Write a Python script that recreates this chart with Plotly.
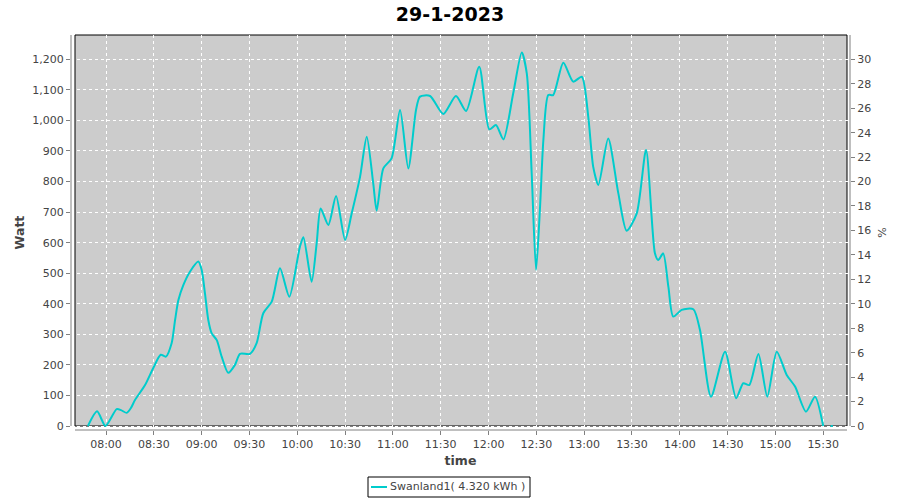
import plotly.graph_objects as go

DAY = "2023-01-29"
TITLE = "29-1-2023"
SERIES_NAME = "Swanland1( 4.320 kWh )"

times = [
    "07:48:40", "07:54:25", "07:59:40", "08:06:40", "08:09:25", "08:13:00", "08:15:45", "08:18:10",
    "08:24:30", "08:29:40", "08:34:20", "08:37:35", "08:41:10", "08:43:20", "08:45:25", "08:48:30",
    "08:52:40", "08:57:55", "09:00:00", "09:02:05", "09:04:10", "09:06:20", "09:09:30", "09:12:35",
    "09:16:40", "09:20:55", "09:24:05", "09:30:20", "09:34:30", "09:38:40", "09:44:00", "09:49:10",
    "09:55:00", "10:01:40", "10:03:50", "10:09:00", "10:12:10", "10:14:40", "10:19:30", "10:24:20",
    "10:30:00", "10:34:10", "10:39:25", "10:43:35", "10:47:40", "10:49:50", "10:54:00", "10:59:10",
    "11:04:30", "11:09:40", "11:14:30", "11:17:00", "11:23:20", "11:31:35", "11:39:35", "11:45:55",
    "11:54:10", "12:00:30", "12:04:40", "12:09:20", "12:15:30", "12:20:50", "12:24:00", "12:27:05",
    "12:29:50", "12:32:20", "12:34:25", "12:37:30", "12:40:35", "12:46:55", "12:53:10", "12:58:30",
    "13:02:35", "13:05:40", "13:08:55", "13:15:05", "13:21:25", "13:26:40", "13:33:00", "13:38:50",
    "13:44:25", "13:46:30", "13:49:35", "13:52:50", "13:55:55", "14:01:10", "14:08:30", "14:12:40",
    "14:19:35", "14:28:25", "14:35:20", "14:39:50", "14:43:35", "14:49:20", "14:54:55", "15:00:50",
    "15:07:05", "15:12:20", "15:19:10", "15:24:50", "15:30:00", "15:32:00", "15:34:40", "15:36:00",
]
watts = [
    0, 48, 0, 55, 52, 43, 60, 85,
    134, 190, 233, 227, 271, 347, 412, 461,
    505, 538, 511, 434, 347, 303, 281, 227,
    174, 200, 236, 236, 271, 369, 407, 516,
    423, 587, 618, 472, 598, 712, 658, 753,
    609, 696, 816, 947, 794, 705, 843, 876,
    1034, 843, 1034, 1078, 1080, 1021, 1080, 1031,
    1176, 971, 985, 938, 1089, 1222, 1154, 827,
    511, 718, 936, 1083, 1083, 1189, 1127, 1143,
    1012, 849, 789, 941, 762, 639, 696, 903,
    565, 543, 565, 456, 358, 380, 382, 314,
    96, 243, 91, 140, 134, 236, 96, 243,
    167, 129, 47, 96, 0, None, 0, 0,
]

y_range = [-13.1, 1279.6]
pct_per_watt = 1 / 40.0
x_range = [DAY + " 07:38:02", DAY + " 15:46:48"]

xs = [DAY + " " + t for t in times]
pct = [None if w is None else w * pct_per_watt for w in watts]

GRAY = "#808080"
TXT = "#444444"
LINE = "#00cccc"
FONT = "DejaVu Sans"

# pixel geometry helpers (plot area: x 71..850, y 35..430)
L, R, T, B = 71, 850, 35, 430
def px(x):
    return (x - L) / (R - L)
def py(y):
    return (B - y) / (B - T)

fig = go.Figure()
fig.add_trace(go.Scatter(
    x=xs, y=watts, mode="lines", name=SERIES_NAME,
    line=dict(color=LINE, width=2, shape="spline", smoothing=0.7),
    connectgaps=False, showlegend=False,
))
fig.add_trace(go.Scatter(
    x=xs, y=pct, mode="lines", yaxis="y2", showlegend=False, hoverinfo="skip",
    line=dict(color="rgba(0,0,0,0)", width=0),
))

# plot background (inset) and axis lines
fig.add_shape(type="rect", xref="paper", yref="paper", x0=px(75), x1=px(847), y0=py(426), y1=1,
              fillcolor="#cccccc", line=dict(color="black", width=1), layer="below")
fig.add_shape(type="line", xref="paper", yref="paper", x0=px(75), x1=px(847), y0=0, y1=0,
              line=dict(color=GRAY, width=1))
fig.add_shape(type="line", xref="paper", yref="paper", x0=0, x1=0, y0=py(426), y1=1,
              line=dict(color=GRAY, width=1))
fig.add_shape(type="line", xref="paper", yref="paper", x0=1, x1=1, y0=py(426), y1=1,
              line=dict(color=GRAY, width=1))

# legend box (drawn manually to match the reference size)
fig.add_shape(type="rect", xref="paper", yref="paper", x0=px(368), x1=px(530), y0=py(497), y1=py(477),
              fillcolor="white", line=dict(color="black", width=1))
fig.add_shape(type="line", xref="paper", yref="paper", x0=px(371), x1=px(387), y0=py(487), y1=py(487),
              line=dict(color=LINE, width=2))
fig.add_annotation(xref="paper", yref="paper", x=px(388), y=py(487), xanchor="left", yanchor="middle",
                   text=SERIES_NAME, showarrow=False,
                   font=dict(family=FONT, size=11, color=TXT))

fig.update_layout(
    width=900, height=500,
    margin=dict(l=L, r=900 - R, t=T, b=500 - B, autoexpand=False),
    paper_bgcolor="white", plot_bgcolor="white",
    font=dict(family=FONT, size=11, color=TXT),
    title=dict(text="<b>" + TITLE + "</b>", x=0.5, xanchor="center", y=1 - 14 / 500, yanchor="middle",
               font=dict(family=FONT, size=19, color="black")),
    xaxis=dict(
        range=x_range, type="date", tickformat="%H:%M", dtick=30 * 60 * 1000,
        tick0=DAY + " 08:00:00",
        showgrid=True, gridcolor="white", griddash="dot", gridwidth=1,
        showline=False, zeroline=False,
        ticks="outside", ticklen=4, tickcolor=GRAY,
        tickfont=dict(family=FONT, size=11, color=TXT),
        title=dict(text="<b>time</b>", font=dict(family=FONT, size=12.5, color=TXT), standoff=6),
        automargin=False,
    ),
    yaxis=dict(
        range=y_range, dtick=100, tickformat=",d",
        showgrid=True, gridcolor="white", griddash="dot", gridwidth=1,
        showline=False, zeroline=False,
        ticks="outside", ticklen=4, tickcolor=GRAY,
        tickfont=dict(family=FONT, size=11, color=TXT),
        title=dict(text="<b>Watt</b>", font=dict(family=FONT, size=12.5, color=TXT), standoff=4),
        automargin=False,
    ),
    yaxis2=dict(
        range=[y_range[0] * pct_per_watt, y_range[1] * pct_per_watt], dtick=2,
        overlaying="y", side="right", showgrid=False, zeroline=False, showline=False,
        ticks="outside", ticklen=4, tickcolor=GRAY,
        tickfont=dict(family=FONT, size=11, color=TXT),
        title=dict(text="%", font=dict(family=FONT, size=11, color=TXT), standoff=8),
        automargin=False,
    ),
    showlegend=False,
)

fig.write_html("out.html", config={"displayModeBar": False},
               post_script="document.body.style.margin='0';document.body.style.padding='0';")
